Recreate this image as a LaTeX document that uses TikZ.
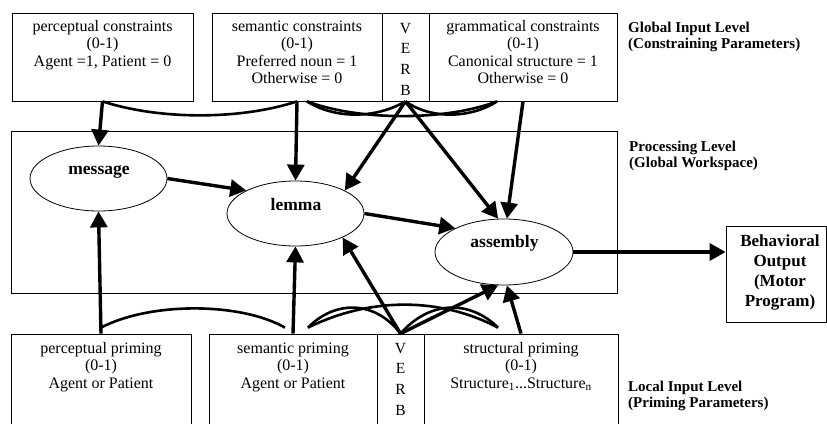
\documentclass[tikz,border=0pt]{standalone}
\usepackage{fontspec}
\setmainfont{Liberation Serif}
\usetikzlibrary{arrows.meta,shapes.geometric}

\tikzset{
  box/.style={draw, line width=0.8pt, inner sep=0pt},
  ell/.style={draw, ellipse, line width=0.8pt, inner sep=0pt},
  txt/.style={align=center, inner sep=0pt, anchor=base, font=\fontsize{16}{17.5}\selectfont},
  verbtxt/.style={align=center, inner sep=0pt, anchor=base, font=\fontsize{15.5}{20.8}\selectfont},
  lvl/.style={align=left, inner sep=0pt, anchor=base west, font=\fontsize{15}{16}\selectfont\bfseries},
  etxt/.style={inner sep=0pt, anchor=base, font=\fontsize{17.5}{20}\selectfont\bfseries},
  otxt/.style={align=center, inner sep=0pt, anchor=base, font=\fontsize{17}{19.7}\selectfont\bfseries},
  arr/.style={line width=3.4pt, -{Triangle[length=16pt,width=17pt]}},
  link/.style={line width=2.6pt}
}

\begin{document}
\begin{tikzpicture}[x=1pt,y=-1pt]
    \clip (0,0) rectangle (827,423);

    % Define nodes
    % global input level (text nodes sit on their last line)
    \node[box, minimum width=181pt, minimum height=88pt] (pcon) at (102.5,57) {};
    \node[box, minimum width=170pt, minimum height=88pt] (scon) at (297,57) {};
    \node[box, minimum width=47pt, minimum height=88pt] (verbT) at (405.5,57) {};
    \node[box, minimum width=188pt, minimum height=88pt] (gcon) at (523,57) {};
    \node[txt] (pcontxt) at (102.5,66) {perceptual constraints\\(0-1)\\Agent =1, Patient = 0};
    \node[txt] (scontxt) at (297,83.5) {semantic constraints\\(0-1)\\Preferred noun = 1\\Otherwise = 0};
    \node[verbtxt] (verbTtxt) at (405.5,95.4) {V\\E\\R\\B};
    \node[txt] (gcontxt) at (523,83.5) {grammatical constraints\\(0-1)\\Canonical structure = 1\\Otherwise = 0};
    \node[lvl] (globtxt) at (628,48) {Global Input Level\\(Constraining Parameters)};

    % processing level
    \node[box, minimum width=606pt, minimum height=162pt] (work) at (314,212) {};
    \node[ell, minimum width=137pt, minimum height=65pt] (message) at (98.5,178.5) {};
    \node[ell, minimum width=137pt, minimum height=65pt] (lemma) at (295.5,213.5) {};
    \node[ell, minimum width=138pt, minimum height=66pt] (assembly) at (504,252) {};
    \node[etxt] (messagetxt) at (99,174) {message};
    \node[etxt] (lemmatxt) at (296,210) {lemma};
    \node[etxt] (assemblytxt) at (504.5,247) {assembly};
    \node[lvl] (proctxt) at (629,167) {Processing Level\\(Global Workspace)};

    % output
    \node[box, minimum width=100pt, minimum height=96pt] (behav) at (776,274) {};
    \node[otxt] (behavtxt) at (780,306) {Behavioral\\Output\\(Motor\\Program)};

    % local input level
    \node[box, minimum width=180pt, minimum height=96pt] (pprim) at (101,382) {};
    \node[box, minimum width=168pt, minimum height=96pt] (sprim) at (293,382) {};
    \node[box, minimum width=47pt, minimum height=96pt] (verbB) at (400.5,382) {};
    \node[box, minimum width=194pt, minimum height=96pt] (stprim) at (521,382) {};
    \node[txt] (pprimtxt) at (101,388) {perceptual priming\\(0-1)\\Agent or Patient};
    \node[txt] (sprimtxt) at (293,388) {semantic priming\\(0-1)\\Agent or Patient};
    \node[verbtxt] (verbBtxt) at (400.5,415.4) {V\\E\\R\\B};
    \node[txt] (stprimtxt) at (521,388) {structural priming\\(0-1)\\Structure\textsubscript{1}...Structure\textsubscript{n}};
    \node[lvl] (loctxt) at (628,407) {Local Input Level\\(Priming Parameters)};

    % Draw links
    \draw[link] (pcon.south) .. controls (160,120) and (240,120) .. (scon.south);
    \draw[link] ([xshift=10pt]scon.south) .. controls (335,119) and (375,119) .. (verbT.south);
    \draw[link] ([xshift=10pt]scon.south) .. controls (360,121) and (445,121) .. ([xshift=-26pt]gcon.south);
    \draw[link] (verbT.south) .. controls (430,119) and (470,119) .. ([xshift=-26pt]gcon.south);
    \draw[link] ([yshift=6pt]pprim.north) .. controls (150,302) and (240,302) .. ([xshift=-8pt,yshift=6pt]sprim.north);
    \draw[link] ([xshift=15pt,yshift=6pt]sprim.north) .. controls (335,300) and (375,300) .. (verbB.north);
    \draw[link] ([xshift=15pt,yshift=6pt]sprim.north) .. controls (370,297) and (440,297) .. ([xshift=-23pt,yshift=6pt]stprim.north);
    \draw[link] (verbB.north) .. controls (430,300) and (470,300) .. ([xshift=-23pt,yshift=6pt]stprim.north);

    % Draw arrows
    \draw[arr] (pcon.south) -- (message.north);
    \draw[arr] (scon.south) -- (lemma.north);
    \draw[arr] (verbT.south) -- (lemma.25);
    \draw[arr] (verbT.south) -- (assembly.100);
    \draw[arr] (gcon.south) -- (assembly.85);
    \draw[arr] (message.east) -- (lemma.155);
    \draw[arr] (lemma.east) -- (assembly.154);
    \draw[arr] (assembly.east) -- (assembly.east -| behav.west);
    \draw[arr] (pprim.north) -- (message.south);
    \draw[arr] (sprim.north) -- (lemma.south);
    \draw[arr] (verbB.north) -- (lemma.-27);
    \draw[arr] (verbB.north) -- (assembly.-100);
    \draw[arr] (stprim.north) -- (assembly.-85);
\end{tikzpicture}
\end{document}
